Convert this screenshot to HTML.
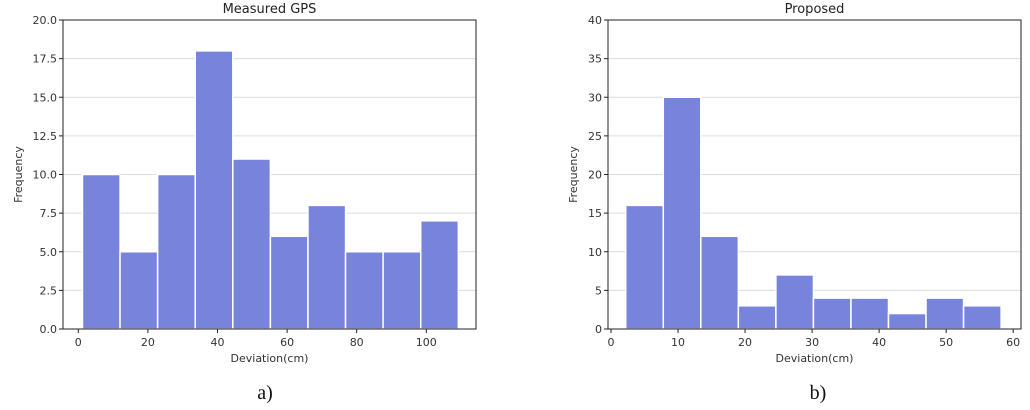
<!DOCTYPE html>
<html><head><meta charset="utf-8"><style>
body{margin:0;background:#fff;}
svg{display:block;font-family:"DejaVu Sans","Liberation Sans",sans-serif;}
</style></head><body>
<svg id="c" width="1030" height="410"></svg>
<script>
const leftCounts=[10,5,10,18,11,6,8,5,5,7];
const leftBinStart=1.2, leftBinWidth=10.8;
const leftXTicks=[0,20,40,60,80,100];
const leftYTicks=[0,2.5,5,7.5,10,12.5,15,17.5,20];
const rightCounts=[16,30,12,3,7,4,4,2,4,3];
const rightBinStart=2.2, rightBinWidth=5.6;
const rightXTicks=[0,10,20,30,40,50,60];
const rightYTicks=[0,5,10,15,20,25,30,35,40];
const NS="http://www.w3.org/2000/svg";
const svg=document.getElementById('c');
function el(t,a,p){const e=document.createElementNS(NS,t);for(const k in a)e.setAttribute(k,a[k]);(p||svg).appendChild(e);return e;}
function panel(cfg){
 const g=el('g',{});
 
 
 const X=v=>cfg.x0+(v-cfg.xmin)*cfg.xs, Y=v=>cfg.bot-(v/cfg.ymax)*(cfg.bot-cfg.top);
 cfg.yt.forEach(v=>{
  if(v>0&&v<cfg.ymax){const l=el('line',{x1:cfg.left,x2:cfg.right,y1:Y(v),y2:Y(v),stroke:'#dcdcdc','stroke-width':1},g);
  }
  const t=el('line',{x1:cfg.left-4,x2:cfg.left,y1:Y(v),y2:Y(v),stroke:'#222'},g);
  
  const tx=el('text',{x:cfg.left-6,y:Y(v)+4,'text-anchor':'end','font-size':11,fill:'#333'},g);
  tx.textContent=cfg.yfmt(v);
  
 });
 cfg.counts.forEach((c,i)=>{
  const a=X(cfg.bs+i*cfg.bw), b=X(cfg.bs+(i+1)*cfg.bw);
  const r=el('rect',{x:a,y:Y(c),width:b-a,height:Y(0)-Y(c),fill:'#7884db',stroke:'#fff','stroke-width':1.5},g);
  
 });
 cfg.xt.forEach(v=>{
  const t=el('line',{x1:X(v),x2:X(v),y1:cfg.bot,y2:cfg.bot+4,stroke:'#222'},g);
  
  const tx=el('text',{x:X(v),y:cfg.bot+17,'text-anchor':'middle','font-size':11,fill:'#333'},g);
  tx.textContent=v;
  
 });
 const f=el('rect',{x:cfg.left,y:cfg.top,width:cfg.right-cfg.left,height:cfg.bot-cfg.top,fill:'none',stroke:'#222','stroke-width':1},g);
 
 const ti=el('text',{x:(cfg.left+cfg.right)/2,y:13,'text-anchor':'middle','font-size':13,fill:'#222'},g);
 ti.textContent=cfg.title;
 const xl=el('text',{x:(cfg.left+cfg.right)/2,y:362,'text-anchor':'middle','font-size':11,fill:'#333'},g);
 xl.textContent='Deviation(cm)';
 const yl=el('text',{x:0,y:0,'text-anchor':'middle','font-size':11,fill:'#333',transform:`translate(${cfg.ylx},${(cfg.top+cfg.bot)/2}) rotate(-90)`},g);
 yl.textContent='Frequency';
 const sl=el('text',{x:cfg.subx,y:399,'text-anchor':'middle','font-size':20,fill:'#111','font-family':'Liberation Serif,serif'},g);
 sl.textContent=cfg.sub;
}
panel({name:'measured-gps-chart',title:'Measured GPS',counts:leftCounts,bs:leftBinStart,bw:leftBinWidth,xt:leftXTicks,yt:leftYTicks,
 x0:78.3,xmin:0,xs:3.48,left:63,right:476,top:20,bot:329,ymax:20,yfmt:v=>v.toFixed(1),ylx:22,subx:265,sub:'a)'});
panel({name:'proposed-chart',title:'Proposed',counts:rightCounts,bs:rightBinStart,bw:rightBinWidth,xt:rightXTicks,yt:rightYTicks,
 x0:611,xmin:0,xs:6.703,left:608,right:1021,top:20,bot:329,ymax:40,yfmt:v=>String(v),ylx:577,subx:818,sub:'b)'});
</script>
</body></html>
